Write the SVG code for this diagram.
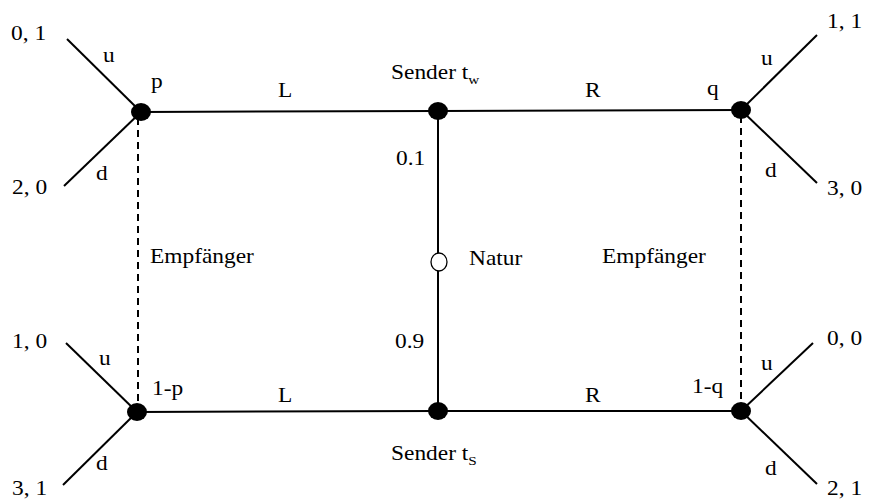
<svg xmlns="http://www.w3.org/2000/svg" width="871" height="500" viewBox="0 0 871 500">
<style>
text{font-family:"Liberation Serif","Times New Roman",serif;font-size:20px;fill:#000}
.sub{font-size:13px}
.e{stroke:#000;stroke-width:2;fill:none}
.d{stroke:#000;stroke-width:2;fill:none;stroke-dasharray:7,5}
.n{fill:#000}
</style>
<rect width="871" height="500" fill="#fff"/>
<g id="connectors">
<line class="e" x1="141" y1="112" x2="438" y2="111"/>
<line class="e" x1="438" y1="111" x2="741" y2="110"/>
<line class="e" x1="137" y1="412" x2="438" y2="411"/>
<line class="e" x1="438" y1="411" x2="741" y2="411"/>
<line class="e" x1="438" y1="111" x2="438" y2="411"/>
<line class="e" x1="67" y1="39" x2="141" y2="112"/>
<line class="e" x1="64" y1="186" x2="141" y2="112"/>
<line class="e" x1="817" y1="35" x2="741" y2="110"/>
<line class="e" x1="817" y1="183" x2="741" y2="110"/>
<line class="e" x1="66" y1="343" x2="137" y2="412"/>
<line class="e" x1="63" y1="485" x2="137" y2="412"/>
<line class="e" x1="813" y1="343" x2="741" y2="411"/>
<line class="e" x1="817" y1="484" x2="741" y2="411"/>
<line class="d" x1="138" y1="118" x2="138" y2="406"/>
<line class="d" x1="741" y1="116" x2="741" y2="406"/>
</g>
<g id="tl"><ellipse class="n" cx="141" cy="112" rx="10" ry="9"/><text transform="translate(151 88) scale(1.17 1)">p</text></g>
<g id="tm"><ellipse class="n" cx="438" cy="111" rx="10" ry="9"/><text transform="translate(391 79) scale(1.17 1)">Sender t<tspan class="sub" dy="5">w</tspan></text></g>
<g id="tr"><ellipse class="n" cx="741" cy="110" rx="10" ry="9"/><text transform="translate(707 95) scale(1.17 1)">q</text></g>
<g id="bl"><ellipse class="n" cx="137" cy="412" rx="10" ry="9"/><text transform="translate(152 395) scale(1.17 1)">1-p</text></g>
<g id="bm"><ellipse class="n" cx="438" cy="411" rx="10" ry="9"/><text transform="translate(391 460) scale(1.17 1)">Sender t<tspan class="sub" dy="5">S</tspan></text></g>
<g id="br"><ellipse class="n" cx="741" cy="411" rx="10" ry="9"/><text transform="translate(692 393) scale(1.17 1)">1-q</text></g>
<g id="natur"><ellipse cx="439" cy="262" rx="8" ry="9" fill="#fff" stroke="#000" stroke-width="1.3"/><text transform="translate(469 265) scale(1.17 1)">Natur</text></g>
<g id="labels">
<text transform="translate(11 40) scale(1.17 1)">0, 1</text>
<text transform="translate(103 62) scale(1.17 1)">u</text>
<text transform="translate(96 180) scale(1.17 1)">d</text>
<text transform="translate(12 194) scale(1.17 1)">2, 0</text>
<text transform="translate(278 97) scale(1.17 1)">L</text>
<text transform="translate(585 97) scale(1.17 1)">R</text>
<text transform="translate(827 28) scale(1.17 1)">1, 1</text>
<text transform="translate(761 65) scale(1.17 1)">u</text>
<text transform="translate(765 177) scale(1.17 1)">d</text>
<text transform="translate(827 195) scale(1.17 1)">3, 0</text>
<text transform="translate(396 165) scale(1.17 1)">0.1</text>
<text transform="translate(395 348) scale(1.17 1)">0.9</text>
<text transform="translate(150 263) scale(1.17 1)">Empfänger</text>
<text transform="translate(602 263) scale(1.17 1)">Empfänger</text>
<text transform="translate(12 348) scale(1.17 1)">1, 0</text>
<text transform="translate(99 365) scale(1.17 1)">u</text>
<text transform="translate(96 470) scale(1.17 1)">d</text>
<text transform="translate(12 495) scale(1.17 1)">3, 1</text>
<text transform="translate(278 402) scale(1.17 1)">L</text>
<text transform="translate(585 402) scale(1.17 1)">R</text>
<text transform="translate(827 345) scale(1.17 1)">0, 0</text>
<text transform="translate(761 370) scale(1.17 1)">u</text>
<text transform="translate(765 475) scale(1.17 1)">d</text>
<text transform="translate(827 495) scale(1.17 1)">2, 1</text>
</g>
</svg>
